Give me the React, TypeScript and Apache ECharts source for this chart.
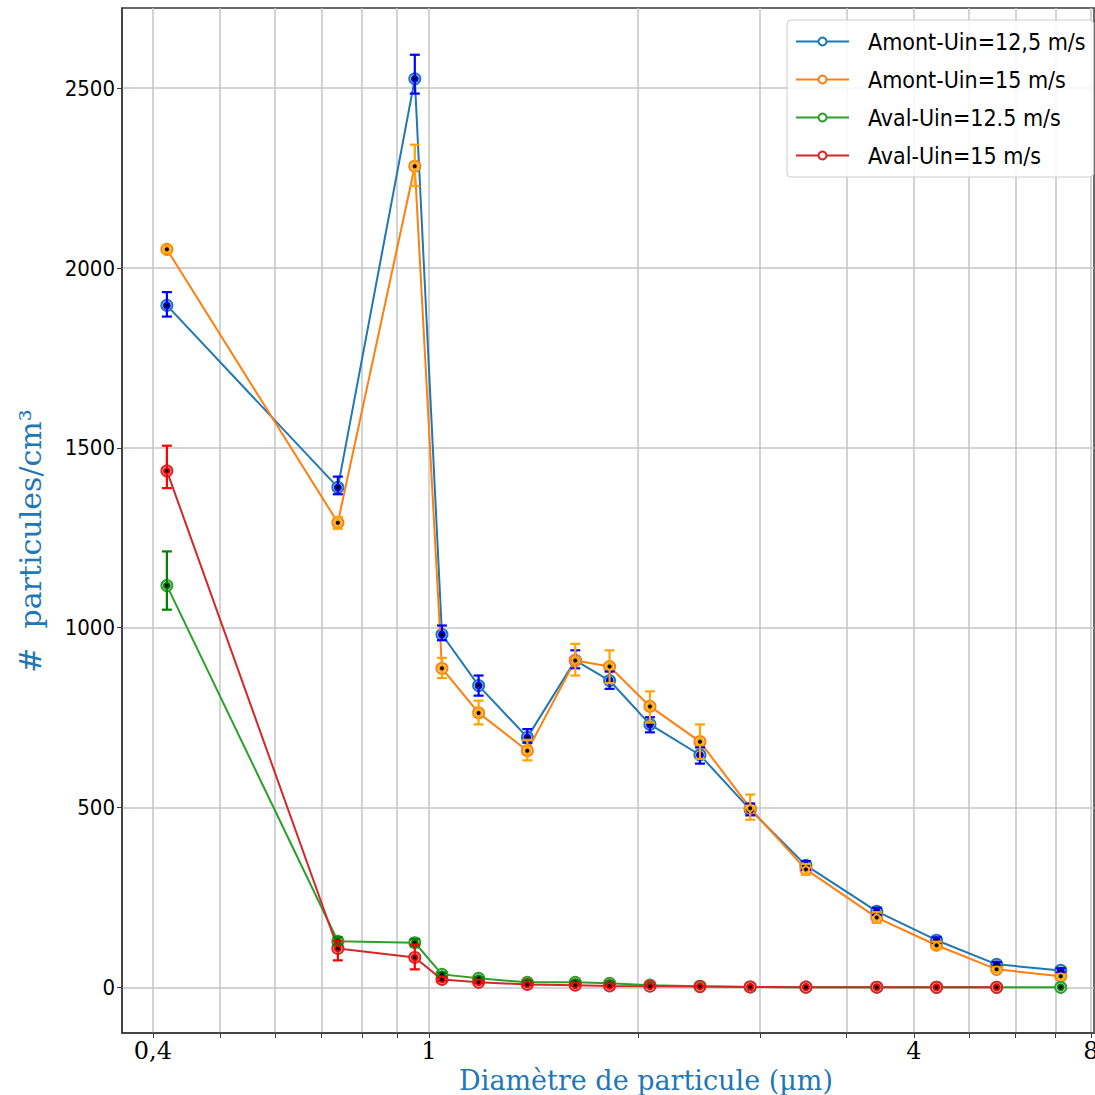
import React, { useEffect, useRef } from 'react';
import * as echarts from 'echarts';

// particle diameters (µm)
const sizes = [0.419, 0.739, 0.954, 1.044, 1.179, 1.386, 1.625, 1.821, 2.082, 2.458, 2.904, 3.494, 4.42, 5.39, 6.58, 8.14];

const amont125 = [1896, 1390, 2526, 981, 839, 695, 909, 853, 731, 646, 494, 339, 211, 131, 64, 47];
const amont125Lo = [31, 19, 41, 16, 28, 15, 22, 23, 22, 24, 16, 12, 10, 8, 6, 6];
const amont125Hi = [37, 30, 67, 25, 28, 23, 28, 25, 20, 21, 17, 12, 10, 8, 6, 6];

const amont15 = [2052, 1292, 2283, 887, 763, 658, 909, 892, 781, 683, 498, 328, 194, 117, 50, 31];
const amont15Lo = [10, 17, 55, 27, 32, 27, 42, 46, 45, 48, 32, 15, 15, 10, 6, 5];
const amont15Hi = [10, 16, 60, 29, 34, 30, 46, 45, 42, 48, 38, 15, 15, 10, 6, 5];

const aval125 = [1117, 128, 124, 36, 25, 14, 14, 11, 6, 3, 1, 0.5, 0.3, 0.2, 0.1, 0];
const aval125Lo = [67, 11, 10, 5, 3, 2, 2, 2, 1, 1, 0, 0, 0, 0, 0, 0];
const aval125Hi = [95, 11, 10, 5, 3, 2, 2, 2, 1, 1, 0, 0, 0, 0, 0, 0];

const aval15 = [1436, 108, 83, 22, 14, 8, 6, 4, 3, 2, 1, 0.5, 0.3, 0.2, 0.1];
const aval15Lo = [48, 33, 33, 4, 3, 2, 1, 1, 1, 1, 0, 0, 0, 0, 0];
const aval15Hi = [70, 20, 36, 4, 3, 2, 1, 1, 1, 1, 0, 0, 0, 0, 0];

const seriesNames = ['Amont-Uin=12,5 m/s', 'Amont-Uin=15 m/s', 'Aval-Uin=12.5 m/s', 'Aval-Uin=15 m/s'];
const lineColors = ['#1f77b4', '#ff7f0e', '#2ca02c', '#d62728'];
const errColors = ['#0000ff', '#ffa500', '#008000', '#ff0000'];

const xGridValues = [0.4, 0.5, 0.6, 0.7, 0.8, 0.9, 1, 2, 3, 4, 5, 6, 7, 8, 9];
const xLabelPositions = [0.4, 1, 5, 9];
const xLabelTexts = ['0,4', '1', '4', '8'];
const yTicks = [0, 500, 1000, 1500, 2000, 2500];

const X_MIN = 0.361;
const X_MAX = 9.09;
const Y_MIN = -127;
const Y_MAX = 2723;

const SANS = '"DejaVu Sans Condensed", "DejaVu Sans", sans-serif';
const SERIF = '"DejaVu Serif", serif';

export default function App() {
  const ref = useRef<HTMLDivElement>(null);
  useEffect(() => {
    if (!ref.current) return;
    const chart = echarts.init(ref.current, undefined, { renderer: 'svg' });
    const defs = [
      { v: amont125, lo: amont125Lo, hi: amont125Hi },
      { v: amont15, lo: amont15Lo, hi: amont15Hi },
      { v: aval125, lo: aval125Lo, hi: aval125Hi },
      { v: aval15, lo: aval15Lo, hi: aval15Hi },
    ];
    const series: any[] = [];
    defs.forEach((d, i) => {
      const lineData = d.v.map((y, k) => [Math.log10(sizes[k]), y]);
      const errData = d.v.map((y, k) => [Math.log10(sizes[k]), y, d.lo[k], d.hi[k]]);
      series.push({
        name: seriesNames[i],
        type: 'line',
        data: lineData,
        symbol: 'emptyCircle',
        symbolSize: 11,
        lineStyle: { color: lineColors[i], width: 2 },
        itemStyle: { color: lineColors[i], borderColor: lineColors[i], borderWidth: 1.6 },
        z: 2 + i,
      });
      const ec = errColors[i];
      series.push({
        name: seriesNames[i] + '-err',
        type: 'custom',
        data: errData,
        z: 10 + i,
        renderItem: (params: any, api: any) => {
          const x = api.value(0);
          const y = api.value(1);
          const lo = api.value(2);
          const hi = api.value(3);
          const pt = api.coord([x, y + hi]);
          const pb = api.coord([x, y - lo]);
          const pc = api.coord([x, y]);
          const cw = 5;
          const st = { stroke: ec, lineWidth: 2.2 };
          const children: any[] = [];
          if (lo + hi > 0) {
            children.push(
              { type: 'line', shape: { x1: pt[0], y1: pt[1], x2: pb[0], y2: pb[1] }, style: st },
              { type: 'line', shape: { x1: pt[0] - cw, y1: pt[1], x2: pt[0] + cw, y2: pt[1] }, style: st },
              { type: 'line', shape: { x1: pb[0] - cw, y1: pb[1], x2: pb[0] + cw, y2: pb[1] }, style: st },
            );
          }
          children.push(
            { type: 'circle', shape: { cx: pc[0], cy: pc[1], r: 4 }, style: { fill: ec } },
            { type: 'circle', shape: { cx: pc[0], cy: pc[1], r: 2 }, style: { fill: '#000' } },
          );
          return { type: 'group', children };
        },
      });
    });

    chart.setOption({
      animation: false,
      backgroundColor: '#ffffff',
      grid: {
        left: 122, top: 8, right: 1, bottom: 62,
        outerBoundsMode: 'none',
        containLabel: false,
        show: true, borderColor: '#3a3a3a', borderWidth: 1.5, backgroundColor: 'transparent',
      },
      xAxis: {
        type: 'value',
        min: Math.log10(X_MIN),
        max: Math.log10(X_MAX),
        axisLine: { show: true, onZero: false, lineStyle: { color: '#3a3a3a', width: 1.5 } },
        axisTick: {
          show: true, inside: false, length: 5,
          customValues: xGridValues.map((v) => Math.log10(v)),
          lineStyle: { color: '#3a3a3a', width: 1 },
        },
        splitLine: { show: true, lineStyle: { color: '#c4c4c4', width: 1.5 } },
        axisLabel: {
          customValues: xLabelPositions.map((v) => Math.log10(v)),
          formatter: (val: number) => {
            let best = 0;
            let bd = Infinity;
            xLabelPositions.forEach((p, i) => {
              const dd = Math.abs(Math.log10(p) - val);
              if (dd < bd) { bd = dd; best = i; }
            });
            return xLabelTexts[best];
          },
          fontFamily: SERIF, fontSize: 24, color: '#000', margin: 6,
        },
      },
      yAxis: {
        type: 'value',
        min: Y_MIN,
        max: Y_MAX,
        axisLine: { show: true, onZero: false, lineStyle: { color: '#3a3a3a', width: 1.5 } },
        axisTick: {
          show: true, inside: false, length: 5, customValues: yTicks,
          lineStyle: { color: '#3a3a3a', width: 1 },
        },
        splitLine: { show: true, lineStyle: { color: '#c4c4c4', width: 1.5 } },
        axisLabel: {
          customValues: yTicks,
          formatter: (v: number) => String(Math.round(v)),
          fontFamily: SANS, fontSize: 22, color: '#000', margin: 7,
        },
      },
      legend: {
        data: seriesNames,
        orient: 'vertical',
        left: 787,
        top: 20,
        itemWidth: 53,
        itemHeight: 10,
        itemGap: 15,
        padding: [10, 8, 10, 8],
        backgroundColor: 'rgba(255,255,255,0.85)',
        borderColor: '#cccccc',
        borderWidth: 1,
        borderRadius: 4,
        textStyle: { fontFamily: SANS, fontSize: 23, color: '#000', padding: [0, 0, 0, 14] },
      },
      graphic: [
        {
          type: 'text',
          x: 646, y: 1080,
          style: {
            text: 'Diamètre de particule (µm)',
            fontFamily: SERIF, fontSize: 27, fill: '#1f77b4',
            align: 'center', verticalAlign: 'middle',
          },
        },
        {
          type: 'text',
          x: 30, y: 541,
          rotation: Math.PI / 2,
          style: {
            text: '#  particules/cm³',
            fontFamily: SERIF, fontSize: 30, fill: '#1f77b4',
            align: 'center', verticalAlign: 'middle',
          },
        },
      ],
      series,
    });
    return () => chart.dispose();
  }, []);
  return <div ref={ref} style={{ position: 'fixed', left: 0, top: 0, width: 1095, height: 1095 }} />;
}
